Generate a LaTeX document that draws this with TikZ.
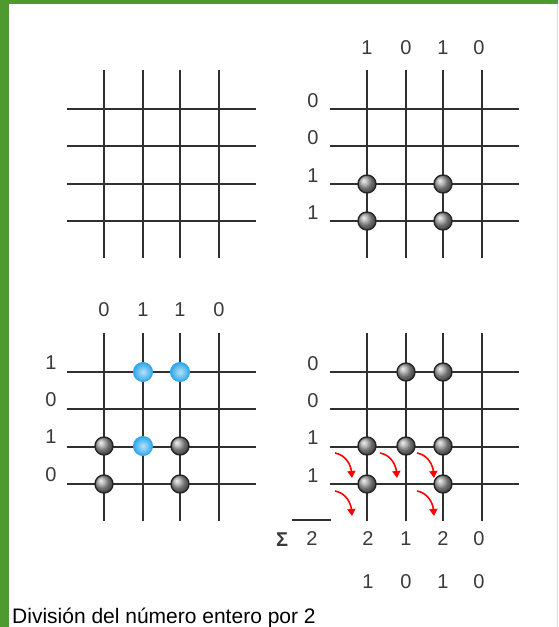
\documentclass[tikz,border=0pt]{standalone}
\usepackage{fontspec}
\setmainfont{Liberation Sans}
\usepackage{xcolor}
\usetikzlibrary{arrows.meta}
\definecolor{framegreen}{HTML}{4E9A2F}
\definecolor{gridgray}{HTML}{303030}
\definecolor{digitgray}{HTML}{3A3A3A}
\definecolor{dotblue}{HTML}{2FA8EC}

\tikzset{
  gridline/.style={draw=gridgray, line width=2.8pt},
  dot/.style={circle, minimum size=18pt, inner sep=0pt, draw=black!85, line width=1.4pt, ball color=gray!75},
  bluedot/.style={circle, minimum size=19pt, inner sep=0pt, draw=dotblue, line width=1pt,
    inner color=dotblue!35!white, outer color=dotblue},
  digit/.style={text=digitgray, font=\fontsize{20}{20}\selectfont, inner sep=0pt},
  carry/.style={red, line width=1.6pt, -{Triangle[length=7pt,width=8pt]}}
}

\begin{document}
\begin{tikzpicture}[x=1pt, y=-1pt]
\useasboundingbox (0,0) rectangle (558,627);
% frame
\fill[white] (0,0) rectangle (558,627);
\fill[framegreen] (0,0) rectangle (9,627);
\fill[framegreen] (0,0) rectangle (558,4);
\draw[framegreen!25, line width=1pt] (557,4) -- (557,627);

% the four grids
\foreach \gx/\gy in {104/109, 367/109, 104/372, 367/372} {
  \begin{scope}[shift={(\gx,\gy)}]
    \foreach \c in {0,39,76,115}
      \draw[gridline] (\c,-39) -- (\c,149);
    \foreach \r in {0,37,75,112}
      \draw[gridline] (-37,\r) -- (152,\r);
  \end{scope}
}

% top right: 1010 x 0011
\foreach \d [count=\i] in {1,0,1,0}
  \node[digit] (bt\i) at ({\ifcase\i\or367\or406\or443\or479\fi},48) {\d};
\foreach \d [count=\i] in {0,0,1,1}
  \node[digit] (bl\i) at (313,{\ifcase\i\or101\or138\or176\or213\fi}) {\d};
\node[dot] (b31) at (367,184) {};
\node[dot] (b33) at (443,184) {};
\node[dot] (b41) at (367,221) {};
\node[dot] (b43) at (443,221) {};

% bottom left: 0110 x 1010
\foreach \d [count=\i] in {0,1,1,0}
  \node[digit] (ct\i) at ({\ifcase\i\or104\or143\or180\or219\fi},310) {\d};
\foreach \d [count=\i] in {1,0,1,0}
  \node[digit] (cl\i) at (51,{\ifcase\i\or363\or400\or437\or475\fi}) {\d};
\node[bluedot] (c12) at (143,372) {};
\node[bluedot] (c13) at (180,372) {};
\node[bluedot] (c32) at (143,446) {};
\node[dot] (c31) at (104,446) {};
\node[dot] (c33) at (180,446) {};
\node[dot] (c41) at (104,484) {};
\node[dot] (c43) at (180,484) {};

% bottom right: sum and carries
\foreach \d [count=\i] in {0,0,1,1}
  \node[digit] (dl\i) at (313,{\ifcase\i\or364\or401\or438\or476\fi}) {\d};
\node[dot] (d12) at (406,372) {};
\node[dot] (d13) at (443,372) {};
\node[dot] (d31) at (367,446) {};
\node[dot] (d32) at (406,446) {};
\node[dot] (d33) at (443,446) {};
\node[dot] (d41) at (367,484) {};
\node[dot] (d43) at (443,484) {};

\foreach \n/\sx/\sy in {a/335/453, b/380/453, c/417/453, d/335/491, e/417/491} {
  \coordinate (\n0) at (\sx,\sy);
  \coordinate (\n1) at ({\sx+17},{\sy+25});
  \draw[carry] (\n0) to[out=-10, in=95] (\n1);
}

\node[digit, font=\fontsize{20}{20}\selectfont\bfseries] (sigma) at (282,540) {Σ};
\node[digit] (stwo) at (312,539) {2};
\coordinate (bar0) at (292,520);
\coordinate (bar1) at (331,520);
\draw[gridgray, line width=2.4pt] (bar0) -- (bar1);
\foreach \d [count=\i] in {2,1,2,0}
  \node[digit] (sum\i) at ({\ifcase\i\or368\or406\or443\or479\fi},539) {\d};
\foreach \d [count=\i] in {1,0,1,0}
  \node[digit] (res\i) at ({\ifcase\i\or368\or406\or443\or479\fi},582) {\d};

\node[anchor=base west, inner sep=0pt, font=\fontsize{21}{21}\selectfont] (caption) at (12,623) {División del número entero por 2};
\end{tikzpicture}
\end{document}
